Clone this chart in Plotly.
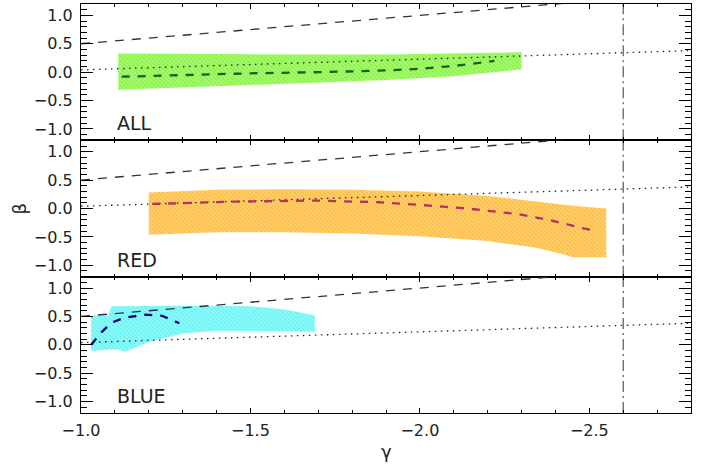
import plotly.graph_objects as go
from plotly.subplots import make_subplots

# ---- reference lines (same in every panel) ----
ref_gamma = [-1.0, -2.8]
ref_dashed_beta = [0.5, 1.4]
ref_dotted_beta = [0.04, 0.38]
vline_gamma = [-2.6, -2.6]
vline_beta = [-1.2, 1.2]

# ---- ALL sample ----
all_gamma = [-1.11, -1.3, -1.5, -1.7, -1.9, -2.1, -2.3]
all_top = [0.33, 0.32, 0.31, 0.31, 0.31, 0.33, 0.35]
all_bot = [-0.31, -0.27, -0.22, -0.18, -0.14, -0.07, 0.05]
all_med_gamma = [-1.12, -1.3, -1.5, -1.7, -1.9, -2.0, -2.1, -2.2, -2.22]
all_med = [-0.08, -0.05, -0.02, 0.0, 0.03, 0.06, 0.11, 0.18, 0.20]

# ---- RED sample ----
red_gamma = [-1.2, -1.4, -1.6, -1.8, -2.0, -2.2, -2.35, -2.42, -2.45, -2.55]
red_top = [0.28, 0.33, 0.34, 0.33, 0.30, 0.22, 0.12, 0.07, 0.05, 0.0]
red_bot = [-0.46, -0.42, -0.42, -0.44, -0.49, -0.57, -0.70, -0.80, -0.86, -0.86]
red_med_gamma = [-1.21, -1.45, -1.69, -1.88, -2.03, -2.14, -2.29, -2.38, -2.49, -2.51]
red_med = [0.08, 0.12, 0.14, 0.11, 0.05, 0.0, -0.10, -0.20, -0.36, -0.38]

# ---- BLUE sample ----
blue_top_gamma = [-1.03, -1.08, -1.09, -1.3, -1.5, -1.6, -1.69]
blue_top = [0.51, 0.52, 0.68, 0.69, 0.68, 0.62, 0.52]
blue_bot_gamma = [-1.03, -1.09, -1.11, -1.13, -1.2, -1.3, -1.4, -1.5, -1.6, -1.69]
blue_bot = [-0.11, -0.08, -0.08, -0.12, 0.05, 0.20, 0.25, 0.24, 0.24, 0.23]
blue_med_gamma = [-1.03, -1.06, -1.09, -1.13, -1.19, -1.24, -1.29]
blue_med = [0.0, 0.22, 0.39, 0.48, 0.53, 0.51, 0.38]

panel_names = ["ALL", "RED", "BLUE"]
band_colors = ["#5ef000", "#ffa500", "#2ef0f0"]
band_bg = ["#b8fa90", "#ffd88a", "#a8fafa"]
med_colors = ["#1c5e1c", "#b03068", "#000080"]

y_tickvals = [-1.0, -0.5, 0.0, 0.5, 1.0]
y_ticktext = ["−1.0", "−0.5", "0.0", "0.5", "1.0"]
x_tickvals = [-1.0, -1.5, -2.0, -2.5]
x_ticktext = ["−1.0", "−1.5", "−2.0", "−2.5"]

bands = [
    (all_gamma, all_top, all_gamma, all_bot, all_med_gamma, all_med),
    (red_gamma, red_top, red_gamma, red_bot, red_med_gamma, red_med),
    (blue_top_gamma, blue_top, blue_bot_gamma, blue_bot, blue_med_gamma, blue_med),
]

fig = make_subplots(rows=3, cols=1, shared_xaxes=True, vertical_spacing=0)

FONT = "DejaVu Sans"
TXT = "#222222"

for i, (gt, top, gb, bot, gm, med) in enumerate(bands):
    row = i + 1
    poly_x = list(gt) + list(gb)[::-1]
    poly_y = list(top) + list(bot)[::-1]
    fig.add_trace(go.Scatter(
        x=poly_x, y=poly_y, mode="lines", fill="toself",
        line=dict(width=0, color=band_colors[i]),
        fillcolor=band_colors[i],
        fillpattern=dict(shape="\\", size=3, solidity=0.65,
                         fgcolor=band_colors[i], bgcolor=band_bg[i]),
        showlegend=False, hoverinfo="skip"), row=row, col=1)
    fig.add_trace(go.Scatter(
        x=ref_gamma, y=ref_dashed_beta, mode="lines",
        line=dict(color="#333333", width=1.3, dash="9px,8px"),
        showlegend=False), row=row, col=1)
    fig.add_trace(go.Scatter(
        x=ref_gamma, y=ref_dotted_beta, mode="lines",
        line=dict(color="#222222", width=1.3, dash="1.5px,4.5px"),
        showlegend=False), row=row, col=1)
    fig.add_trace(go.Scatter(
        x=vline_gamma, y=vline_beta, mode="lines",
        line=dict(color="#555555", width=1.2, dash="11px,4px,2px,4px"),
        showlegend=False), row=row, col=1)
    fig.add_trace(go.Scatter(
        x=gm, y=med, mode="lines",
        line=dict(color=med_colors[i], width=2.3, dash="8px,8px"),
        showlegend=False), row=row, col=1)
    xr = "x" if row == 1 else f"x{row}"
    yr = "y" if row == 1 else f"y{row}"
    fig.add_annotation(x=-1.1, y=-0.9, xref=xr, yref=yr, text=panel_names[i],
                       showarrow=False, xanchor="left", yanchor="middle",
                       font=dict(family=FONT, size=19, color=TXT))

for row in (1, 2, 3):
    fig.update_yaxes(
        row=row, col=1, range=[-1.2, 1.2],
        tickmode="array", tickvals=y_tickvals, ticktext=y_ticktext,
        ticks="inside", ticklen=12, tickwidth=1.2, tickcolor="black",
        minor=dict(tickmode="linear", tick0=0, dtick=0.1, ticks="inside",
                   ticklen=6, tickwidth=1, tickcolor="black"),
        showline=True, linecolor="black", linewidth=1.2, mirror="allticks",
        showgrid=False, zeroline=False, ticklabelstandoff=4,
        tickfont=dict(family=FONT, size=16, color=TXT))
    fig.update_xaxes(
        row=row, col=1, range=[-1.0, -2.8],
        tickmode="array", tickvals=x_tickvals, ticktext=x_ticktext,
        ticks="inside", ticklen=5, tickwidth=1.2, tickcolor="black",
        minor=dict(tickmode="linear", tick0=0, dtick=0.1, ticks="inside",
                   ticklen=3, tickwidth=1, tickcolor="black"),
        showline=True, linecolor="black", linewidth=1.2, mirror="allticks",
        showgrid=False, zeroline=False,
        showticklabels=(row == 3), ticklabelstandoff=3,
        tickfont=dict(family=FONT, size=16, color=TXT))

fig.add_annotation(x=0.5, y=0, xref="paper", yref="paper", yshift=-38,
                   text="γ", showarrow=False, xanchor="center", yanchor="middle",
                   font=dict(family=FONT, size=18, color=TXT))
fig.add_annotation(x=0, y=0.5, xref="paper", yref="paper", xshift=-62,
                   text="β", showarrow=False, textangle=-90,
                   xanchor="center", yanchor="middle",
                   font=dict(family=FONT, size=18, color=TXT))

fig.update_layout(
    width=711, height=466,
    margin=dict(l=81, r=20, t=4, b=53),
    plot_bgcolor="white", paper_bgcolor="white",
    showlegend=False,
)

fig.write_html("out.html",
               config={"displayModeBar": False},
               post_script="document.body.style.margin='0px';document.body.style.padding='0px';")
